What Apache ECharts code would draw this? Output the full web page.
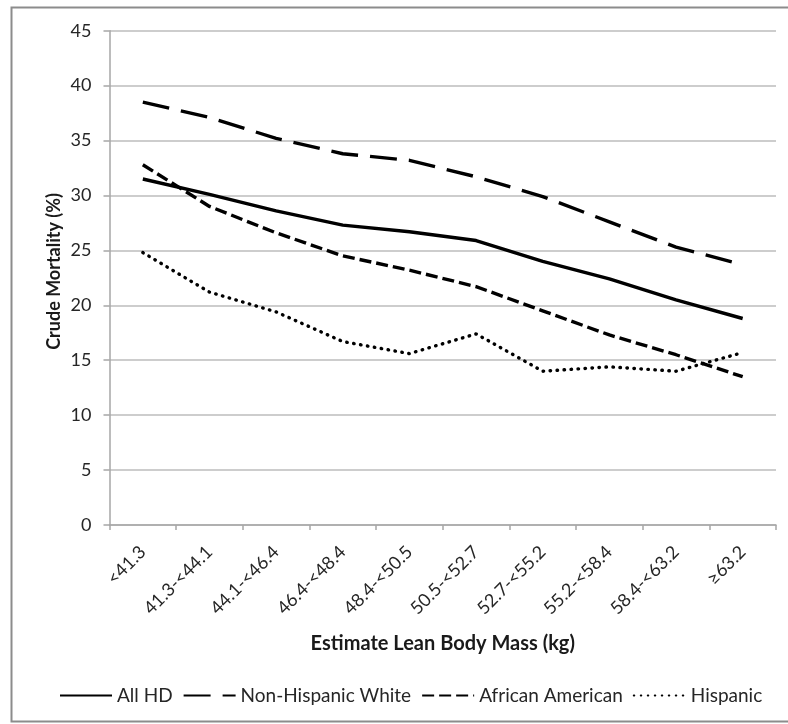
<!DOCTYPE html>
<html>
<head>
<meta charset="utf-8">
<script src="https://cdn.jsdelivr.net/npm/echarts@6/dist/echarts.min.js"></script>
<style>
  html, body { margin: 0; padding: 0; background: #ffffff; }
  #chart { width: 788px; height: 724px; }
</style>
</head>
<body>
<div id="chart"></div>
<script>
// ---- Data ----
const categories = ['<41.3', '41.3-<44.1', '44.1-<46.4', '46.4-<48.4', '48.4-<50.5', '50.5-<52.7', '52.7-<55.2', '55.2-<58.4', '58.4-<63.2', '\u226563.2'];
const allHD = [31.5, 30.1, 28.6, 27.3, 26.7, 25.9, 24.0, 22.4, 20.5, 18.8];
const nonHispanicWhite = [38.5, 37.1, 35.2, 33.8, 33.2, 31.7, 29.9, 27.6, 25.3, 23.7];
const africanAmerican = [32.8, 29.0, 26.6, 24.5, 23.2, 21.7, 19.5, 17.3, 15.5, 13.5];
const hispanic = [24.8, 21.2, 19.4, 16.7, 15.6, 17.4, 14.0, 14.4, 14.0, 15.7];
const seriesNames = ['All HD', 'Non-Hispanic White', 'African American', 'Hispanic'];
const yTicks = { min: 0, max: 45, interval: 5 };
const xTitle = 'Estimate Lean Body Mass (kg)';
const yTitle = 'Crude Mortality (%)';

const FONT = 'Lato, "Noto Sans", sans-serif';

const chart = echarts.init(document.getElementById('chart'), null, { renderer: 'canvas' });

function lineSeries(name, data, lineStyle) {
  return {
    name: name,
    type: 'line',
    data: data,
    symbol: 'none',
    smooth: false,
    lineStyle: Object.assign({ color: '#000000', width: 3.4 }, lineStyle),
    itemStyle: { color: '#000000' },
    emphasis: { disabled: true },
    animation: false
  };
}

chart.setOption({
  animation: false,
  backgroundColor: '#ffffff',
  textStyle: { fontFamily: FONT },
  graphic: [{
    type: 'rect',
    shape: { x: 11.5, y: 7.5, width: 800, height: 714 },
    style: { fill: 'none', stroke: '#8c8c8c', lineWidth: 2 },
    silent: true,
    z: -1
  }, {
    type: 'text',
    left: 45,
    top: 193,
    rotation: Math.PI / 2,
    silent: true,
    style: {
      text: yTitle,
      fill: '#1a1a1a',
      font: 'bold 18px ' + FONT
    }
  }],
  grid: { left: 109.5, right: 12, top: 30.7, bottom: 199, containLabel: false },
  legend: {
    left: 54,
    top: 681,
    itemWidth: 52,
    itemHeight: 14,
    itemGap: 10,
    itemStyle: { opacity: 0, borderWidth: 0 },
    textStyle: { fontFamily: FONT, fontSize: 19, color: '#262626' },
    data: seriesNames
  },
  xAxis: {
    type: 'category',
    data: categories,
    boundaryGap: true,
    name: xTitle,
    nameLocation: 'middle',
    nameGap: 109,
    nameMoveOverlap: false,
    nameTextStyle: { fontFamily: FONT, fontSize: 20, fontWeight: 'bold', color: '#1a1a1a' },
    axisLine: { show: true, lineStyle: { color: '#a6a6a6', width: 1.5 } },
    axisTick: { show: true, alignWithLabel: false, length: 5, lineStyle: { color: '#a6a6a6', width: 1.5 } },
    axisLabel: { rotate: 45, margin: 24, fontFamily: FONT, fontSize: 18, color: '#262626', interval: 0 },
    splitLine: { show: false }
  },
  yAxis: {
    type: 'value',
    min: yTicks.min,
    max: yTicks.max,
    interval: yTicks.interval,
    axisLine: { show: true, lineStyle: { color: '#a6a6a6', width: 1.5 } },
    axisTick: { show: true, length: 6, lineStyle: { color: '#a6a6a6', width: 1.5 } },
    axisLabel: { margin: 18, fontFamily: FONT, fontSize: 18, color: '#262626' },
    splitLine: { show: true, lineStyle: { color: '#bdbdbd', width: 1.5 } }
  },
  series: [
    lineSeries(seriesNames[0], allHD, { type: 'solid' }),
    lineSeries(seriesNames[1], nonHispanicWhite, { type: [27, 12], cap: 'butt' }),
    lineSeries(seriesNames[2], africanAmerican, { type: [12, 5], cap: 'butt' }),
    lineSeries(seriesNames[3], hispanic, { type: [0.5, 6.5], cap: 'round' })
  ]
});
</script>
</body>
</html>
